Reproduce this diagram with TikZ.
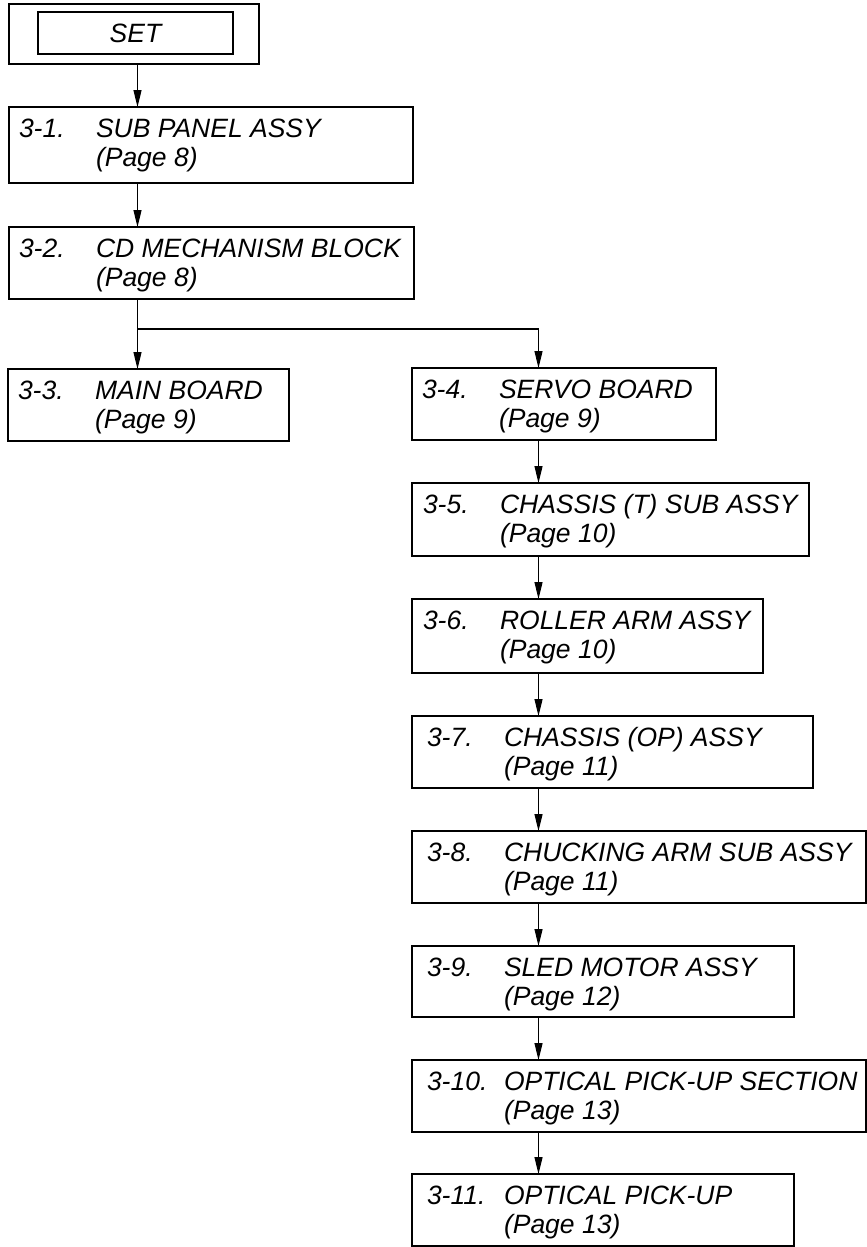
\documentclass[tikz,border=0pt]{standalone}
\usepackage{fontspec}
\setmainfont{Liberation Sans}
\usetikzlibrary{arrows.meta,calc}
\tikzset{
  box/.style={draw=black, line width=1.3pt, inner sep=0pt, outer sep=0pt, fill=white},
  txt/.style={inner sep=0pt, outer sep=0pt, font=\fontsize{26.5}{30}\selectfont\itshape},
  arr/.style={draw=black, line width=1.2pt, -{Triangle[length=17pt,width=8pt]}},
  conn/.style={draw=black, line width=1.2pt}
}
\newcommand\mybox[9]{%
  \pgfmathsetmacro\bw{#4-#2}%
  \pgfmathsetmacro\bh{#5-#3}%
  \node[box, minimum width=\bw pt, minimum height=\bh pt, anchor=north west] (#1) at (#2,#3) {};
  \node[txt, anchor=base west] (#1num) at ($(#1.north west)+(#9,30)$) {#6};
  \node[txt, anchor=base west] (#1ttl) at ($(#1.north west)+(#9+77,30)$) {#7};
  \node[txt, anchor=base west] (#1pg) at ($(#1.north west)+(#9+77,59)$) {#8};
}
\begin{document}
\begin{tikzpicture}[x=1pt,y=-1pt]
\useasboundingbox (0,0) rectangle (867,1247);
% SET double box
\node[box, minimum width=250pt, minimum height=60pt, anchor=north west] (set) at (9,4) {};
\node[box, minimum width=195pt, minimum height=42pt, anchor=north west] (setin) at (38,12) {};
\node[txt] (settxt) at (setin.center) {SET};
% steps
\mybox{b1}{9}{107}{413}{183}{3-1.}{SUB PANEL ASSY}{(Page 8)}{10}
\mybox{b2}{9}{227}{414}{299}{3-2.}{CD MECHANISM BLOCK}{(Page 8)}{10}
\mybox{b3}{8}{369}{289}{441}{3-3.}{MAIN BOARD}{(Page 9)}{10}
\mybox{b4}{412}{368}{716}{440}{3-4.}{SERVO BOARD}{(Page 9)}{10}
\mybox{b5}{412}{483}{809}{556}{3-5.}{CHASSIS (T) SUB ASSY}{(Page 10)}{11}
\mybox{b6}{412}{599}{763}{673}{3-6.}{ROLLER ARM ASSY}{(Page 10)}{11}
\mybox{b7}{412}{716}{813}{788}{3-7.}{CHASSIS (OP) ASSY}{(Page 11)}{15}
\mybox{b8}{412}{831}{866}{903}{3-8.}{CHUCKING ARM SUB ASSY}{(Page 11)}{15}
\mybox{b9}{412}{946}{794}{1017}{3-9.}{SLED MOTOR ASSY}{(Page 12)}{15}
\mybox{b10}{412}{1060}{866}{1132}{3-10.}{OPTICAL PICK-UP SECTION}{(Page 13)}{15}
\mybox{b11}{412}{1174}{794}{1246}{3-11.}{OPTICAL PICK-UP}{(Page 13)}{15}
% connector columns
\coordinate (lx) at (137.5,0);
\coordinate (rx) at (538.5,0);
\coordinate (br) at (0,329);
\draw[arr] (set.south -| lx) -- (b1.north -| lx);
\draw[arr] (b1.south -| lx) -- (b2.north -| lx);
\draw[arr] (b2.south -| lx) -- (b3.north -| lx);
\draw[arr] (br -| lx) -- (br -| rx) -- (b4.north -| rx);
\draw[arr] (b4.south -| rx) -- (b5.north -| rx);
\draw[arr] (b5.south -| rx) -- (b6.north -| rx);
\draw[arr] (b6.south -| rx) -- (b7.north -| rx);
\draw[arr] (b7.south -| rx) -- (b8.north -| rx);
\draw[arr] (b8.south -| rx) -- (b9.north -| rx);
\draw[arr] (b9.south -| rx) -- (b10.north -| rx);
\draw[arr] (b10.south -| rx) -- (b11.north -| rx);
\end{tikzpicture}
\end{document}
